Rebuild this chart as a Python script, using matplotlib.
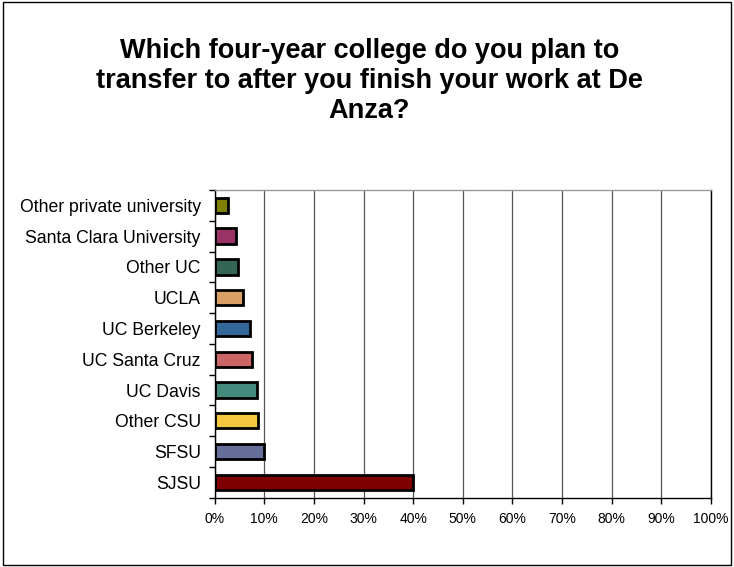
import matplotlib
matplotlib.use("Agg")
import matplotlib.pyplot as plt
from matplotlib.patches import Rectangle
from matplotlib.ticker import FixedLocator, PercentFormatter

categories = ["SJSU", "SFSU", "Other CSU", "UC Davis", "UC Santa Cruz",
              "UC Berkeley", "UCLA", "Other UC", "Santa Clara University",
              "Other private university"]
values = [40.0, 10.0, 8.8, 8.6, 7.5, 7.2, 5.8, 4.7, 4.2, 2.7]
colors = ["#800000", "#666F99", "#F5C842", "#458B7D", "#CC6666",
          "#336699", "#D9A066", "#336655", "#993366", "#808000"]
xticks = [0, 10, 20, 30, 40, 50, 60, 70, 80, 90, 100]
title = "Which four-year college do you plan to\ntransfer to after you finish your work at De\nAnza?"

plt.rcParams['font.family'] = ['Liberation Sans', 'DejaVu Sans']

fig = plt.figure(figsize=(7.34, 5.67), dpi=100)
fig.patches.append(Rectangle((0.004, 0.004), 0.992, 0.992, transform=fig.transFigure,
                             fill=False, edgecolor='black', linewidth=1.0))

ax = fig.add_axes([0.2925, 0.1222, 0.9687 - 0.2925, 0.6649 - 0.1222])
y = list(range(len(categories)))
ax.barh(y, values, height=0.5, color=colors, edgecolor='black', linewidth=2, zorder=3)

ax.set_xlim(0, 100)
ax.set_ylim(-0.5, len(categories) - 0.5)
ax.set_xticks(xticks)
ax.xaxis.set_major_formatter(PercentFormatter(decimals=0))
ax.set_yticks(y)
ax.set_yticklabels(categories)
ax.yaxis.set_minor_locator(FixedLocator([k + 0.5 for k in range(-1, len(categories))]))
ax.tick_params(axis='y', which='major', length=0, pad=10, labelsize=12.7)
ax.tick_params(axis='y', which='minor', length=4, width=1, direction='out')
ax.tick_params(axis='x', which='major', length=4, width=1, direction='out', labelsize=10, pad=6)

ax.grid(axis='x', color='#555555', linewidth=0.9, zorder=0)
for s in ['left', 'bottom', 'right']:
    ax.spines[s].set_color('black')
    ax.spines[s].set_linewidth(1.0)
ax.spines['top'].set_color('#999999')
ax.spines['top'].set_linewidth(1.0)

fig.text(0.503, 0.858, title, ha='center', va='center', fontsize=19.5, fontweight='bold',
         linespacing=1.2)

fig.savefig("out.png", dpi=100)
